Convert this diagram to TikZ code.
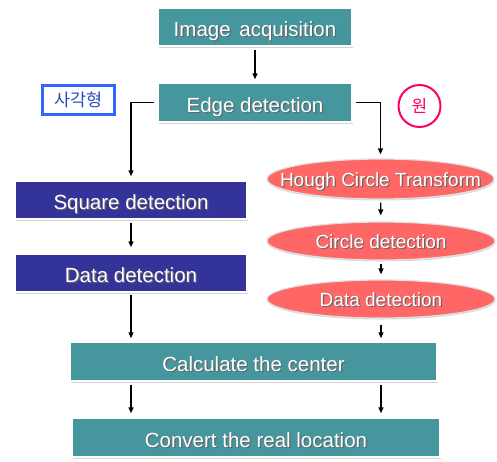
\documentclass[tikz,border=0pt]{standalone}
\usepackage{fontspec}
\setmainfont{Liberation Sans}
\newfontfamily\krfont{Noto Sans CJK KR}
\usetikzlibrary{shapes.geometric,arrows.meta,shadows}
\definecolor{tealc}{HTML}{45969D}
\definecolor{navyc}{HTML}{333399}
\definecolor{salmonc}{HTML}{FF6666}
\definecolor{bluec}{HTML}{3366FF}
\definecolor{pinkc}{HTML}{FF0066}
\newcommand\shtxt[1]{\makebox[0pt][l]{\raisebox{-1.2pt}{\hspace{1.2pt}\textcolor{black!60}{#1}}}#1}
\newcommand\elltxt[1]{\makebox[0pt][c]{\shtxt{#1}}}
\tikzset{
  boxbase/.style={rectangle, inner sep=0pt, draw=white, line width=1.5pt, text=white,
    font=\fontsize{20.5}{22}\selectfont, text height=20pt, text depth=1pt,
    drop shadow={shadow xshift=0.8pt, shadow yshift=-1.5pt, opacity=0.35, fill=black!50}},
  tealbox/.style={boxbase, fill=tealc},
  navybox/.style={boxbase, fill=navyc},
  ellbox/.style={ellipse, inner sep=0pt, fill=salmonc, draw=black!12, line width=1.2pt, text=white,
    font=\fontsize{19}{21}\selectfont, text height=15pt, text depth=1pt,
    drop shadow={shadow xshift=0.5pt, shadow yshift=-1.5pt, opacity=0.3, fill=black!50}},
  arr/.style={-{Triangle[length=6pt,width=5pt]}, line width=1.3pt, black},
}
\begin{document}
\begin{tikzpicture}[x=1pt,y=-1pt]
\useasboundingbox (0,0) rectangle (497,461);
\node[tealbox, minimum width=194pt, minimum height=38pt] (img) at (255,27) {\shtxt{Image\hspace{3pt} acquisition}};
\node[tealbox, minimum width=194pt, minimum height=39pt] (edge) at (255,102.5) {\shtxt{Edge detection}};
\node[draw=bluec, line width=2.2pt, fill=white, text=bluec!75!black, minimum width=72pt, minimum height=29pt, inner sep=0pt, font=\krfont\fontsize{17.5}{19}\selectfont] (sqlab) at (78.5,100) {사각형};
\node[circle, draw=pinkc, line width=2pt, fill=white, text=pinkc, minimum size=42pt, inner sep=0pt, font=\krfont\fontsize{17}{19}\selectfont] (cirlab) at (419.5,106) {원};
\node[navybox, minimum width=232pt, minimum height=38pt] (sq) at (131,200) {\shtxt{Square detection}};
\node[navybox, minimum width=232pt, minimum height=38pt] (dl) at (131,273) {\shtxt{Data detection}};
\node[ellbox, minimum width=227pt, minimum height=40pt] (hough) at (380.5,179) {\elltxt{Hough Circle Transform}};
\node[ellbox, minimum width=228pt, minimum height=38pt] (circ) at (381,241) {\elltxt{Circle detection}};
\node[ellbox, minimum width=228pt, minimum height=38pt] (dr) at (381,299) {\elltxt{Data detection}};
\node[tealbox, minimum width=367pt, minimum height=39pt] (calc) at (253.5,361.5) {\shtxt{Calculate the center}};
\node[tealbox, minimum width=368pt, minimum height=39pt] (conv) at (256,437.5) {\shtxt{Convert the real location}};
\draw[arr, shorten <=3pt, shorten >=3pt] (img) -- (edge);
\draw[arr, shorten <=3pt, shorten >=4pt] (edge.west) -| (sq.north);
\draw[arr, shorten <=3pt, shorten >=4pt] (edge.east) -| (hough.north);
\draw[arr, shorten <=3pt, shorten >=6pt] (sq) -- (dl);
\draw[arr, shorten <=3pt, shorten >=6pt] (hough) -- (circ);
\draw[arr, shorten <=3pt, shorten >=5pt] (circ) -- (dr);
\draw[arr, shorten <=2pt, shorten >=3pt] (dl.south) -- (dl.south |- calc.north);
\draw[arr, shorten <=6pt, shorten >=3pt] (dr.south) -- (dr.south |- calc.north);
\draw[arr, shorten <=3pt, shorten >=4pt] (calc.south -| dl.south) -- (conv.north -| dl.south);
\draw[arr, shorten <=3pt, shorten >=4pt] (calc.south -| dr.south) -- (conv.north -| dr.south);
\end{tikzpicture}
\end{document}
